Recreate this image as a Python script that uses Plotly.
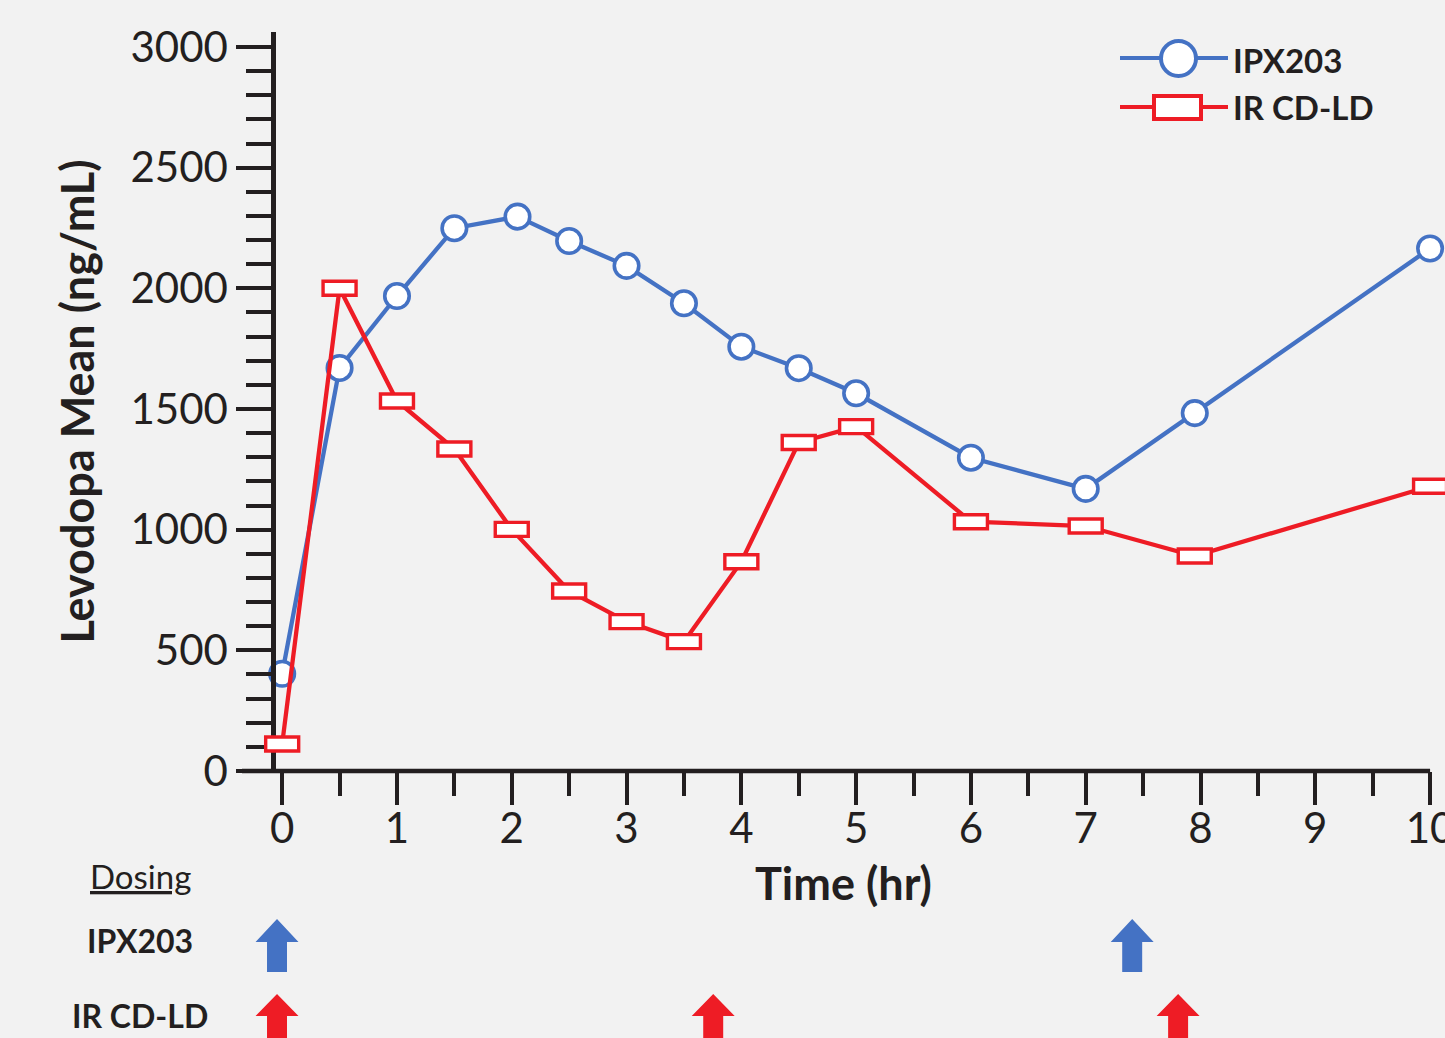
import plotly.graph_objects as go

# ---------------- data ----------------
ipx_time = [0, 0.5, 1, 1.5, 2.05, 2.5, 3, 3.5, 4, 4.5, 5, 6, 7, 7.95, 10]
ipx_conc = [403, 1670, 1968, 2249, 2297, 2196, 2093, 1938, 1758, 1669, 1565, 1298, 1169, 1483, 2165]

ir_time = [0, 0.5, 1, 1.5, 2, 2.5, 3, 3.5, 4, 4.5, 5, 6, 7, 7.95, 10]
ir_conc = [112, 2000, 1533, 1334, 1001, 746, 619, 536, 867, 1361, 1427, 1033, 1015, 891, 1180]

ipx_doses = [0, 7.45]
ir_doses = [0, 3.8, 7.85]

series_names = ["IPX203", "IR CD-LD"]

# ---------------- style ----------------
W, H = 1445, 1038
ML, MR, MT, MB = 242, 0, 32, 267
PW, PH = W - ML - MR, H - MT - MB
BLUE = "#4472C4"
RED = "#EE1C25"
INK = "#231F20"
BG = "#F2F2F2"
FONT = "Lato"

def pxx(x):
    return (x - ML) / PW

def pyy(y):
    return (H - MB - y) / PH

fig = go.Figure()

fig.add_trace(go.Scatter(
    x=ipx_time, y=ipx_conc, mode="lines+markers", name=series_names[0],
    line=dict(color=BLUE, width=4.3),
    marker=dict(symbol="circle", size=24.5, color="white", line=dict(color=BLUE, width=3.6)),
    cliponaxis=False, showlegend=False,
))
fig.add_trace(go.Scatter(
    x=ir_time, y=ir_conc, mode="lines", name=series_names[1],
    line=dict(color=RED, width=4.3),
    cliponaxis=False, showlegend=False,
))

shapes = []
# rectangular markers for IR CD-LD
for t, v in zip(ir_time, ir_conc):
    shapes.append(dict(
        type="rect", xref="x", yref="y", xsizemode="pixel", ysizemode="pixel",
        xanchor=t, yanchor=v, x0=-16.5, x1=16.5, y0=-7, y1=7,
        fillcolor="white", line=dict(color=RED, width=3.4), layer="above",
    ))

# x axis line (ends at 10 hr)
shapes.append(dict(type="line", xref="x", yref="paper", x0=-0.35, x1=10, y0=0, y1=0,
                   line=dict(color=INK, width=4.5), layer="above"))

# dosing arrows
hw, HW, dx = 0.087, 0.187, -0.045
def arrow(t, ytip, yhead, ybot, color):
    c = t + dx
    path = (f"M {c-hw},{ybot} L {c-hw},{yhead} L {c-HW},{yhead} L {c},{ytip} "
            f"L {c+HW},{yhead} L {c+hw},{yhead} L {c+hw},{ybot} Z")
    return dict(type="path", xref="x", yref="paper", path=path,
                fillcolor=color, line=dict(width=0), layer="above")

for t in ipx_doses:
    shapes.append(arrow(t, pyy(919), pyy(942), pyy(972), BLUE))
for t in ir_doses:
    shapes.append(arrow(t, pyy(994), pyy(1016), pyy(1060), RED))

# manual legend
shapes.append(dict(type="line", xref="paper", yref="paper", x0=pxx(1120), x1=pxx(1228),
                   y0=pyy(58), y1=pyy(58), line=dict(color=BLUE, width=4)))
shapes.append(dict(type="circle", xref="paper", yref="paper", x0=pxx(1161), x1=pxx(1196),
                   y0=pyy(41), y1=pyy(76), fillcolor="white", line=dict(color=BLUE, width=4)))
shapes.append(dict(type="line", xref="paper", yref="paper", x0=pxx(1120), x1=pxx(1228),
                   y0=pyy(107), y1=pyy(107), line=dict(color=RED, width=4)))
shapes.append(dict(type="rect", xref="paper", yref="paper", x0=pxx(1154), x1=pxx(1201),
                   y0=pyy(96), y1=pyy(119), fillcolor="white", line=dict(color=RED, width=4)))

annotations = [
    dict(text="<b>IPX203</b>", x=pxx(1231), y=pyy(60), xref="paper", yref="paper",
         xanchor="left", yanchor="middle", showarrow=False, font=dict(family=FONT, size=33, color=INK)),
    dict(text="<b>IR CD-LD</b>", x=pxx(1231), y=pyy(107), xref="paper", yref="paper",
         xanchor="left", yanchor="middle", showarrow=False, font=dict(family=FONT, size=33, color=INK)),
    dict(text="<u>Dosing</u>", x=pxx(140), y=pyy(876), xref="paper", yref="paper",
         xanchor="center", yanchor="middle", showarrow=False, font=dict(family=FONT, size=33, color=INK)),
    dict(text="<b>IPX203</b>", x=pxx(140), y=pyy(940), xref="paper", yref="paper",
         xanchor="center", yanchor="middle", showarrow=False, font=dict(family=FONT, size=32, color=INK)),
    dict(text="<b>IR CD-LD</b>", x=pxx(140), y=pyy(1015), xref="paper", yref="paper",
         xanchor="center", yanchor="middle", showarrow=False, font=dict(family=FONT, size=32, color=INK)),
]

fig.update_layout(
    width=W, height=H,
    margin=dict(l=ML, r=MR, t=MT, b=MB, autoexpand=False),
    paper_bgcolor=BG, plot_bgcolor=BG,
    font=dict(family=FONT, color=INK),
    shapes=shapes, annotations=annotations,
    xaxis=dict(
        range=[-0.35, 10.13], showgrid=False, zeroline=False, showline=False,
        tickmode="linear", tick0=0, dtick=1, ticks="outside", ticklen=33, tickwidth=4,
        tickcolor=INK, tickfont=dict(family=FONT, size=42, color=INK),
        ticklabelstandoff=-12, ticklabeloverflow="allow",
        minor=dict(tickmode="linear", tick0=0, dtick=0.5, ticks="outside", ticklen=24,
                   tickwidth=4, tickcolor=INK, showgrid=False),
        title=dict(text="<b>Time (hr)</b>", font=dict(family=FONT, size=45, color=INK), standoff=17),
        automargin=False, anchor="y",
    ),
    yaxis=dict(
        range=[0, 3062], showgrid=False, zeroline=False, showline=True, linewidth=4.5,
        linecolor=INK, anchor="free", position=0.0258,
        tickmode="linear", tick0=0, dtick=500, ticks="outside", ticklen=35, tickwidth=4,
        tickcolor=INK, tickfont=dict(family=FONT, size=42, color=INK),
        minor=dict(tickmode="linear", tick0=0, dtick=100, ticks="outside", ticklen=25,
                   tickwidth=4, tickcolor=INK, showgrid=False),
        title=dict(text="<b>Levodopa Mean (ng/mL)</b>", font=dict(family=FONT, size=45, color=INK), standoff=20),
        automargin=False,
    ),
)

fig.write_html(
    "out.html",
    config={"displayModeBar": False},
    post_script="document.body.style.margin='0';document.body.style.background='#F2F2F2';",
)
